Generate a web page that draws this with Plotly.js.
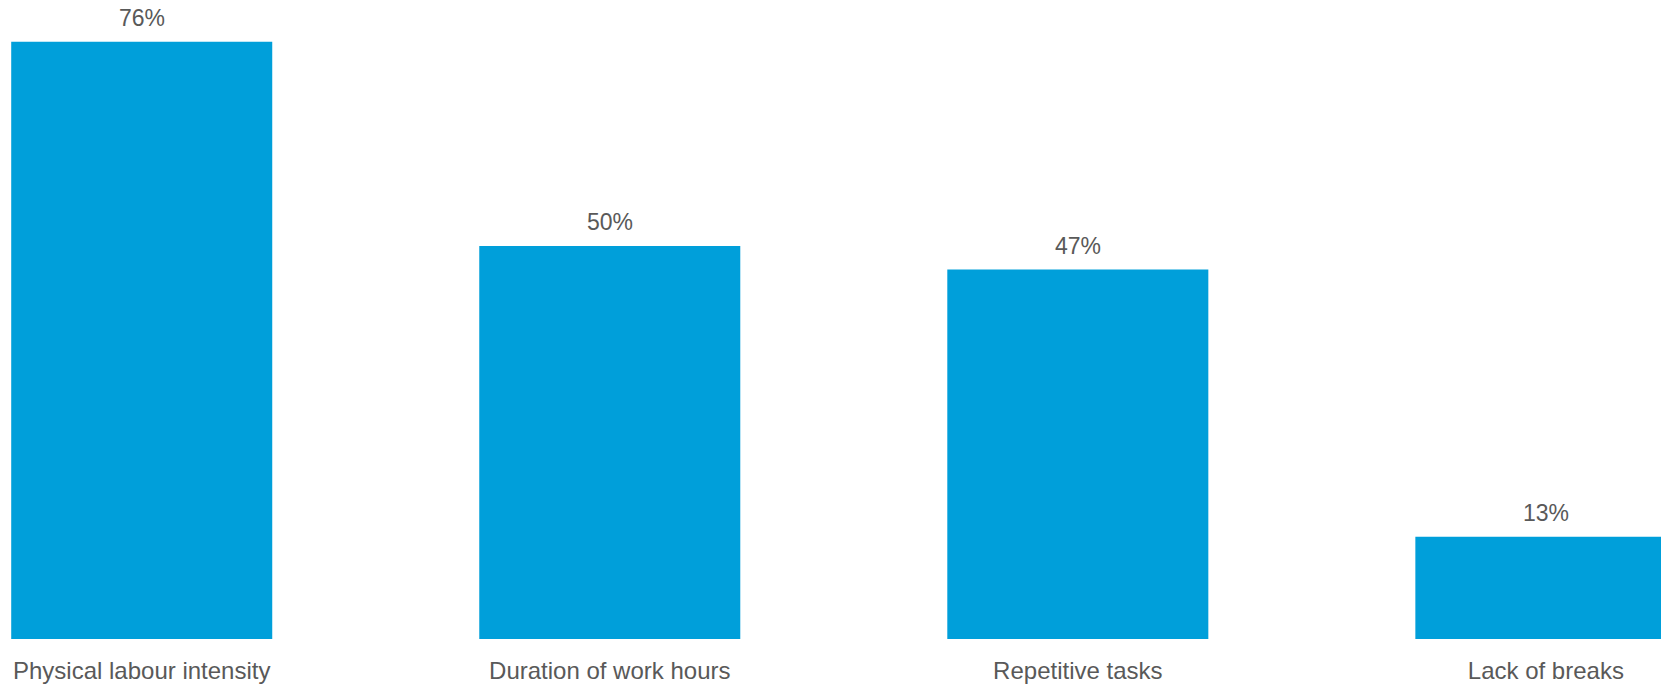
<!DOCTYPE html>
<html>
<head>
<meta charset="utf-8">
<script src="https://cdn.plot.ly/plotly-3.0.1.min.js"></script>
<style>html,body{margin:0;padding:0;background:#fff;}#chart{width:1661px;height:684px;}</style>
</head>
<body>
<div id="chart"></div>
<script>
var categories = ["Physical labour intensity", "Duration of work hours", "Repetitive tasks", "Lack of breaks"];
var values = [76, 50, 47, 13];
var valueLabels = ["76%", "50%", "47%", "13%"];

var barColor = "#009FDA";
var textColor = "#595959";
var fontFamily = "'Liberation Sans', Arial, sans-serif";

var trace = {
  type: "bar",
  x: categories,
  y: values,
  marker: {color: barColor},
  hoverinfo: "skip"
};

var annotations = categories.map(function(c, i) {
  return {
    x: c, y: values[i], text: valueLabels[i],
    xref: "x", yref: "y", showarrow: false,
    yanchor: "bottom", yshift: 9,
    font: {family: fontFamily, size: 23, color: textColor}
  };
});

var layout = {
  width: 1661, height: 684,
  margin: {l: 0, r: 0, t: 0, b: 45, pad: 0},
  paper_bgcolor: "#fff", plot_bgcolor: "#fff",
  bargap: 0.4423,
  showlegend: false,
  xaxis: {
    type: "category",
    range: [-0.3028, 3.246],
    showgrid: false, zeroline: false, showline: false, ticks: "",
    tickfont: {family: fontFamily, size: 24, color: textColor},
    ticklabelstandoff: 15
  },
  yaxis: {
    range: [0, 81.3],
    showgrid: false, zeroline: false, showline: false, showticklabels: false, ticks: ""
  },
  annotations: annotations
};

Plotly.newPlot("chart", [trace], layout, {displayModeBar: false, staticPlot: true});
</script>
</body>
</html>
